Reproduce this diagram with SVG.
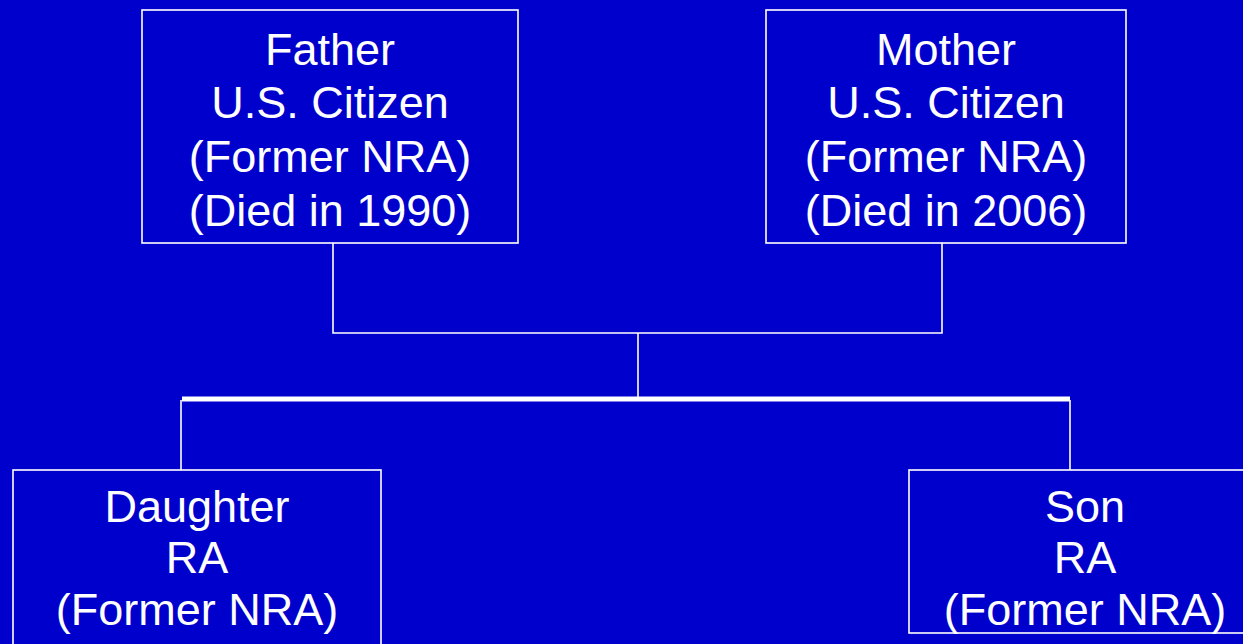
<svg xmlns="http://www.w3.org/2000/svg" width="1243" height="644" viewBox="0 0 1243 644">
  <style>
    .box { fill: #0000cc; stroke: #ffffff; stroke-width: 1.6; }
    .lbl { fill: #ffffff; font-family: "Liberation Sans", Arial, sans-serif; font-size: 45px; text-anchor: middle; }
    .link { fill: none; stroke: #ffffff; stroke-width: 1.6; }
    .bar { fill: none; stroke: #ffffff; stroke-width: 5; }
  </style>
  <rect x="0" y="0" width="1243" height="644" fill="#0000cc"/>

  <g id="connectors">
    <polyline class="link" points="333,243 333,333 942,333 942,243"/>
    <line class="link" x1="638" y1="333" x2="638" y2="397"/>
    <line class="bar" x1="182" y1="399" x2="1070" y2="399"/>
    <line class="link" x1="181" y1="400" x2="181" y2="470"/>
    <line class="link" x1="1070" y1="400" x2="1070" y2="470"/>
  </g>

  <g id="father">
    <rect class="box" x="142" y="10" width="376" height="233"/>
    <text class="lbl" x="330" y="65">Father</text>
    <text class="lbl" x="330" y="118">U.S. Citizen</text>
    <text class="lbl" x="330" y="172">(Former NRA)</text>
    <text class="lbl" x="330" y="226">(Died in 1990)</text>
  </g>

  <g id="mother">
    <rect class="box" x="766" y="10" width="360" height="233"/>
    <text class="lbl" x="946" y="65">Mother</text>
    <text class="lbl" x="946" y="118">U.S. Citizen</text>
    <text class="lbl" x="946" y="172">(Former NRA)</text>
    <text class="lbl" x="946" y="226">(Died in 2006)</text>
  </g>

  <g id="daughter">
    <rect class="box" x="13" y="470" width="368" height="190"/>
    <text class="lbl" x="197" y="522">Daughter</text>
    <text class="lbl" x="197" y="573">RA</text>
    <text class="lbl" x="197" y="625">(Former NRA)</text>
  </g>

  <g id="son">
    <rect class="box" x="909" y="470" width="352" height="163"/>
    <text class="lbl" x="1085" y="522">Son</text>
    <text class="lbl" x="1085" y="573">RA</text>
    <text class="lbl" x="1085" y="625">(Former NRA)</text>
  </g>
</svg>
